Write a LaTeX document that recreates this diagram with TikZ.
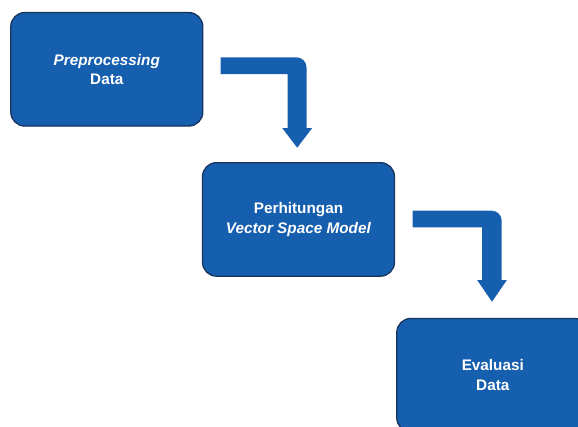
\documentclass[tikz,border=0pt]{standalone}
\usepackage{fontspec}
\setmainfont{Liberation Sans}
\definecolor{boxblue}{RGB}{22,94,174}
\definecolor{boxedge}{RGB}{22,52,92}
\begin{document}
\begin{tikzpicture}[x=1pt,y=-1pt,
  stepbox/.style={draw=boxedge, line width=1.3pt, fill=boxblue, rounded corners=14pt,
    minimum width=192pt, minimum height=113.5pt, align=center, text=white,
    font=\fontsize{15.3}{19.5}\selectfont\bfseries, inner sep=0pt},
  bentarrow/.style={fill=boxblue, draw=none}]
\useasboundingbox (0,0) rectangle (578,426);
\node[stepbox] (b1) at (106.8,69.3) {\textit{Preprocessing}\\Data};
\node[stepbox] (b2) at (298.5,219.4) {Perhitungan\\\textit{Vector Space Model}};
\node[stepbox] (b3) at (492.8,375.2) {Evaluasi\\Data};
% arrow 1
\coordinate (a1s) at (220.7,65.6);
\fill[bentarrow] (220.7,57.3) -- (296.5,57.3) arc[start angle=-90, end angle=0, radius=10] -- (306.5,128) -- (312.2,128) -- (297.2,147.7) -- (282.2,128) -- (287.5,128) -- (287.5,74) -- (220.7,74) -- cycle;
% arrow 2
\coordinate (a2s) at (412.7,219);
\fill[bentarrow] (412.7,210.7) -- (491.7,210.7) arc[start angle=-90, end angle=0, radius=10] -- (501.7,280) -- (506.9,280) -- (492,301.7) -- (477.1,280) -- (482.2,280) -- (482.2,227.3) -- (412.7,227.3) -- cycle;
\end{tikzpicture}
\end{document}
